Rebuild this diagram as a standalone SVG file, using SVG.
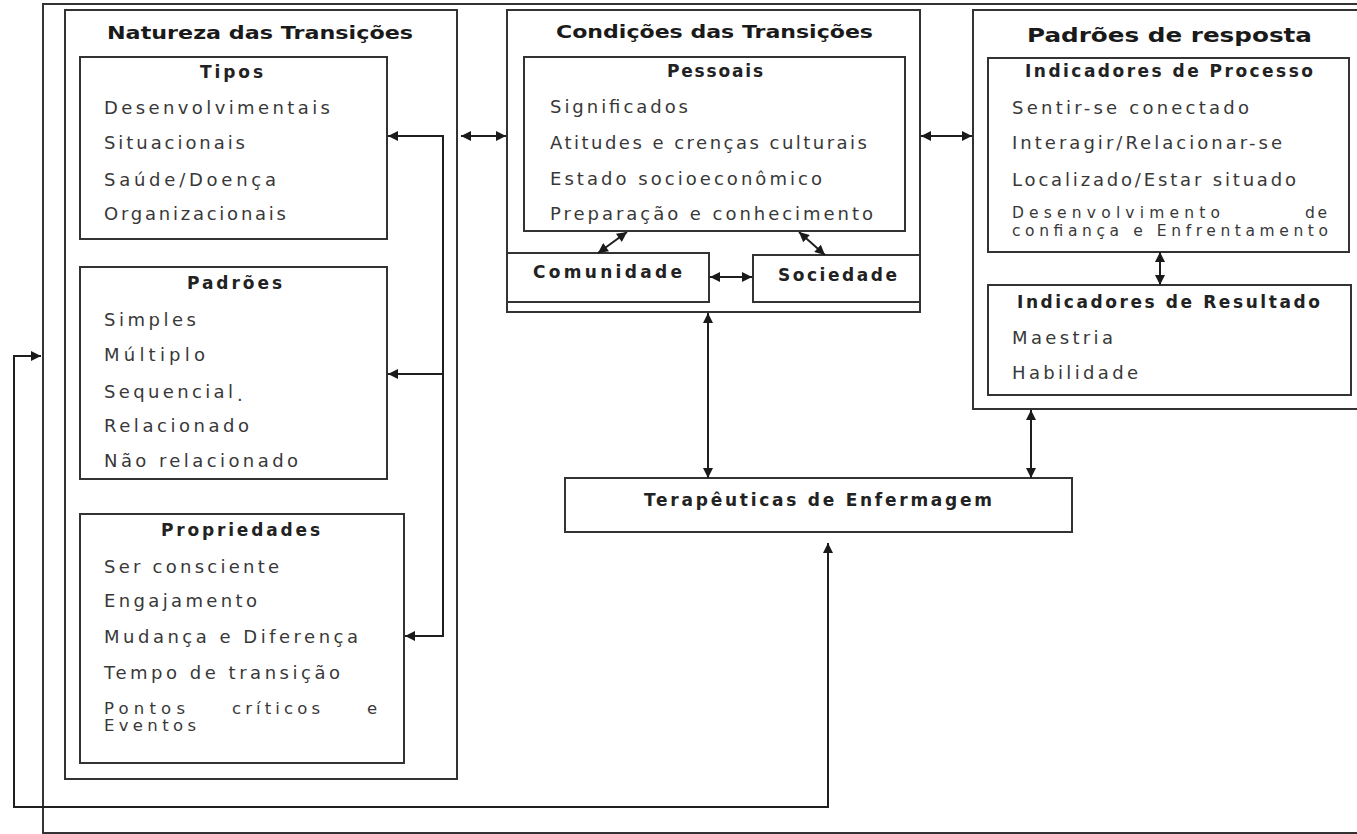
<svg xmlns="http://www.w3.org/2000/svg" width="1357" height="834" viewBox="0 0 1357 834">
<defs>
<marker id="arr" viewBox="0 0 10 10" refX="10" refY="5" markerWidth="11" markerHeight="10" markerUnits="userSpaceOnUse" orient="auto-start-reverse">
<path d="M0,0 L10,5 L0,10 z" fill="#1a1a1a"/>
</marker>
<style>
.box{fill:#fff;stroke:#333;stroke-width:2}
.frame{fill:none;stroke:#333;stroke-width:2}
.c{fill:none;stroke:#1f1f1f;stroke-width:2}
.a2{marker-start:url(#arr);marker-end:url(#arr)}
.a1{marker-end:url(#arr)}
.h1{font-family:"DejaVu Sans",Verdana,sans-serif;font-weight:bold;font-size:18.5px;fill:#1a1a1a}
.h2{font-family:"DejaVu Sans",Verdana,sans-serif;font-weight:bold;font-size:17px;fill:#222}
.t{font-family:"DejaVu Sans",Verdana,sans-serif;font-size:18px;fill:#383838}
.s{font-size:16.5px}
.xs{font-size:15.5px}
</style>
</defs>
<rect width="1357" height="834" fill="#fff"/>
<g id="frame">
<path class="frame" d="M1360,4 H43 V834"/>
<path class="frame" d="M43,833 H1360"/>
</g>
<g id="natureza">
<rect class="box" x="65" y="10" width="392" height="769"/>
<text class="h1" x="107" y="39" textLength="306" lengthAdjust="spacingAndGlyphs">Natureza das Transições</text>
</g>
<g id="tipos">
<rect class="box" x="80" y="57" width="307" height="182"/>
<text class="h2" x="200" y="78" textLength="63" lengthAdjust="spacing">Tipos</text>
<text class="t" x="104" y="114" textLength="226" lengthAdjust="spacing">Desenvolvimentais</text>
<text class="t" x="104" y="149" textLength="141" lengthAdjust="spacing">Situacionais</text>
<text class="t" x="104" y="186" textLength="172" lengthAdjust="spacing">Saúde/Doença</text>
<text class="t" x="104" y="220" textLength="182" lengthAdjust="spacing">Organizacionais</text>
</g>
<g id="padroes">
<rect class="box" x="80" y="267" width="307" height="212"/>
<text class="h2" x="187" y="289" textLength="95" lengthAdjust="spacing">Padrões</text>
<text class="t" x="104" y="326" textLength="92" lengthAdjust="spacing">Simples</text>
<text class="t" x="104" y="361" textLength="101" lengthAdjust="spacing">Múltiplo</text>
<text class="t" x="104" y="398"><tspan textLength="129" lengthAdjust="spacing">Sequencial</tspan><tspan x="237" y="401">.</tspan></text>
<text class="t" x="104" y="432" textLength="145" lengthAdjust="spacing">Relacionado</text>
<text class="t" x="104" y="467" textLength="194" lengthAdjust="spacing">Não relacionado</text>
</g>
<g id="propriedades">
<rect class="box" x="80" y="514" width="324" height="249"/>
<text class="h2" x="161" y="536" textLength="159" lengthAdjust="spacing">Propriedades</text>
<text class="t" x="104" y="573" textLength="175" lengthAdjust="spacing">Ser consciente</text>
<text class="t" x="104" y="607" textLength="153" lengthAdjust="spacing">Engajamento</text>
<text class="t" x="104" y="643" textLength="254" lengthAdjust="spacing">Mudança e Diferença</text>
<text class="t" x="104" y="679" textLength="236" lengthAdjust="spacing">Tempo de transição</text>
<text class="t s" y="714"><tspan x="104" textLength="81" lengthAdjust="spacing">Pontos</tspan><tspan x="232" textLength="88" lengthAdjust="spacing">críticos</tspan><tspan x="367">e</tspan></text>
<text class="t s" x="104" y="731" textLength="92" lengthAdjust="spacing">Eventos</text>
</g>
<g id="condicoes">
<rect class="box" x="507" y="10" width="413" height="302"/>
<text class="h1" x="556" y="38" textLength="317" lengthAdjust="spacingAndGlyphs">Condições das Transições</text>
</g>
<g id="pessoais">
<rect class="box" x="524" y="57" width="381" height="174"/>
<text class="h2" x="667" y="77" textLength="96" lengthAdjust="spacing">Pessoais</text>
<text class="t" x="550" y="113" textLength="138" lengthAdjust="spacing">Significados</text>
<text class="t" x="550" y="149" textLength="317" lengthAdjust="spacing">Atitudes e crenças culturais</text>
<text class="t" x="550" y="185" textLength="272" lengthAdjust="spacing">Estado socioeconômico</text>
<text class="t" x="550" y="220" textLength="323" lengthAdjust="spacing">Preparação e conhecimento</text>
</g>
<g id="comunidade">
<rect class="box" x="507" y="253" width="202" height="49"/>
<text class="h2" x="533" y="278" textLength="149" lengthAdjust="spacing">Comunidade</text>
</g>
<g id="sociedade">
<rect class="box" x="753" y="255" width="167" height="47"/>
<text class="h2" x="778" y="281" textLength="119" lengthAdjust="spacing">Sociedade</text>
</g>
<g id="respostas">
<rect class="box" x="973" y="10" width="400" height="399"/>
<text class="h1" x="1027" y="42" textLength="285" lengthAdjust="spacingAndGlyphs" style="font-size:19.5px">Padrões de resposta</text>
</g>
<g id="processo">
<rect class="box" x="988" y="58" width="361" height="194"/>
<text class="h2" x="1025" y="77" textLength="288" lengthAdjust="spacing">Indicadores de Processo</text>
<text class="t" x="1012" y="114" textLength="237" lengthAdjust="spacing">Sentir-se conectado</text>
<text class="t" x="1012" y="149" textLength="270" lengthAdjust="spacing">Interagir/Relacionar-se</text>
<text class="t" x="1012" y="186" textLength="284" lengthAdjust="spacing">Localizado/Estar situado</text>
<text class="t xs" y="218"><tspan x="1012" textLength="208" lengthAdjust="spacing">Desenvolvimento</tspan><tspan x="1305" textLength="22" lengthAdjust="spacing">de</tspan></text>
<text class="t xs" x="1012" y="236" textLength="316" lengthAdjust="spacing">confiança e Enfrentamento</text>
</g>
<g id="resultado">
<rect class="box" x="988" y="285" width="363" height="110"/>
<text class="h2" x="1017" y="308" textLength="303" lengthAdjust="spacing">Indicadores de Resultado</text>
<text class="t" x="1012" y="344" textLength="101" lengthAdjust="spacing">Maestria</text>
<text class="t" x="1012" y="379" textLength="126" lengthAdjust="spacing">Habilidade</text>
</g>
<g id="terapeuticas">
<rect class="box" x="565" y="478" width="507" height="54"/>
<text class="h2" x="644" y="506" textLength="348" lengthAdjust="spacing">Terapêuticas de Enfermagem</text>
</g>
<g id="connectors">
<path class="c a2" d="M461,136 H506"/>
<path class="c a2" d="M921,136 H972"/>
<path class="c" d="M443,136 V637"/>
<path class="c a1" d="M444,136 H388"/>
<path class="c a1" d="M444,374 H388"/>
<path class="c a1" d="M444,636 H405"/>
<path class="c a2" d="M627,232 L598,253"/>
<path class="c a2" d="M799,232 L825,255"/>
<path class="c a2" d="M710,277 H752"/>
<path class="c a2" d="M708,313 V478"/>
<path class="c a2" d="M1160,252 V285"/>
<path class="c a2" d="M1031,410 V478"/>
<path class="c a2" d="M41,356 H14 V807 H828 V543"/>
</g>
</svg>
